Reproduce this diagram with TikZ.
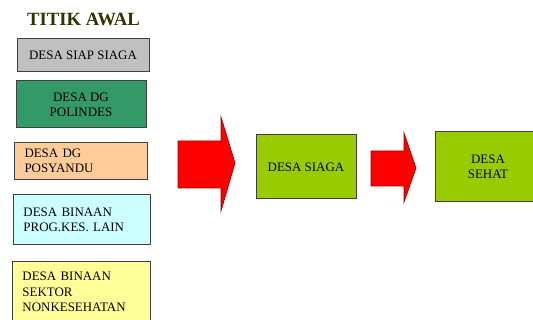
\documentclass[tikz,border=0pt]{standalone}
\usepackage{fontspec}
\setmainfont{Liberation Serif}
\usepackage{tikz}
\usetikzlibrary{positioning,arrows.meta,calc}
\definecolor{olive}{HTML}{333300}
\definecolor{boxgray}{HTML}{C0C0C0}
\definecolor{boxgreen}{HTML}{339966}
\definecolor{boxpeach}{HTML}{FFCC99}
\definecolor{boxcyan}{HTML}{CCFFFF}
\definecolor{boxyellow}{HTML}{FFFF99}
\definecolor{boxlime}{HTML}{99CC00}
\definecolor{edge}{HTML}{404040}

\begin{document}
\begin{tikzpicture}[x=0.75pt, y=-0.75pt,
    desa/.style={draw=edge, line width=0.75pt, inner sep=0pt,
      font=\fontsize{9.7}{11.5}\selectfont, align=center},
    desaleft/.style={desa, anchor=north west, align=left,
      inner xsep=7.5pt, inner ysep=0pt},
    blockarrow/.style={fill=red, draw=red!60!black, line width=0.5pt}]
    \useasboundingbox (0,0) rectangle (533,320);
    \clip (0,0) rectangle (533,320);

    % Title
    \node[olive, font=\fontsize{14}{16}\bfseries\selectfont] (awal)
      at (83.5,19) {TITIK AWAL};

    % Starting points
    \node[desa, fill=boxgray, minimum width=99pt, minimum height=24.75pt]
      (siap) at (83,55.5) {DESA SIAP SIAGA};
    \node[desa, fill=boxgreen, minimum width=97.5pt, minimum height=35.25pt]
      (polindes) at (81,104.5) {DESA DG\\POLINDES};
    \node[desaleft, fill=boxpeach, text width=84.75pt, minimum height=27.75pt]
      (posyandu) at (14,142) {DESA DG\\POSYANDU};
    \node[desaleft, fill=boxcyan, text width=87.75pt, minimum height=37.5pt]
      (prog) at (13,194) {DESA BINAAN\\PROG.KES. LAIN\\[3pt]};
    \node[desaleft, fill=boxyellow, text width=88.5pt, minimum height=45.75pt]
      (sektor) at (12,261) {DESA BINAAN\\SEKTOR\\NONKESEHATAN};

    % Targets
    \node[desa, fill=boxlime, minimum width=75pt, minimum height=48pt]
      (siaga) at (306,167) {DESA SIAGA};
    \node[desa, fill=boxlime, minimum width=79.5pt, minimum height=52.5pt]
      (sehat) at (488,167) {DESA\\SEHAT};

    % Block arrows
    \filldraw[blockarrow] (178,141) -- (221,141) -- (221,117) -- (235,163)
      -- (221,211) -- (221,188) -- (178,188) -- cycle;
    \filldraw[blockarrow] (371,151) -- (404,151) -- (404,133) -- (416,168)
      -- (404,202) -- (404,186) -- (371,186) -- cycle;
  \end{tikzpicture}
\end{document}
